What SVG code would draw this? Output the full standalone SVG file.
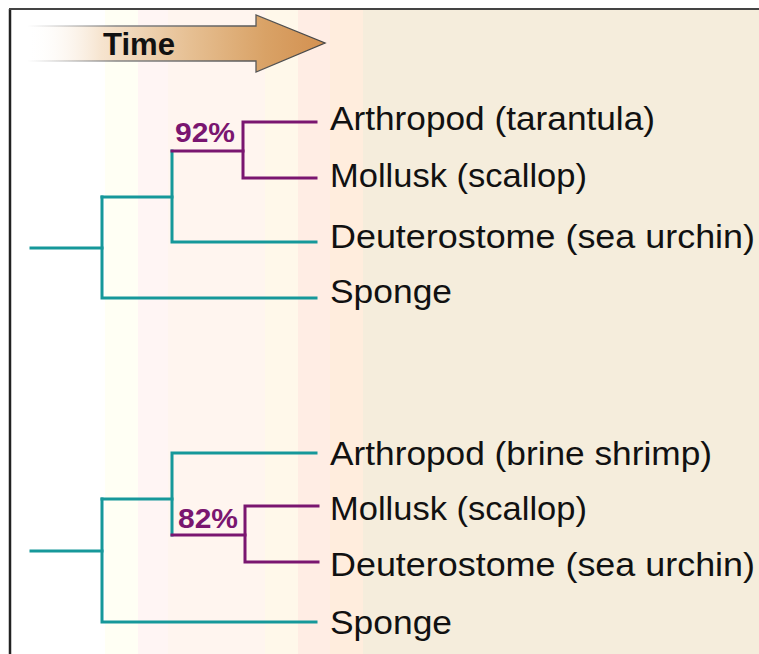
<svg xmlns="http://www.w3.org/2000/svg" width="759" height="654" viewBox="0 0 759 654">
  <defs>
    <linearGradient id="arrowFill" gradientUnits="userSpaceOnUse" x1="27" y1="0" x2="325" y2="0">
      <stop offset="0" stop-color="#ffffff" stop-opacity="0"/>
      <stop offset="0.25" stop-color="#f6e4cf"/>
      <stop offset="0.55" stop-color="#e6bf92"/>
      <stop offset="0.8" stop-color="#d9a266"/>
      <stop offset="1" stop-color="#d39050"/>
    </linearGradient>
    <linearGradient id="arrowStroke" gradientUnits="userSpaceOnUse" x1="27" y1="0" x2="325" y2="0">
      <stop offset="0" stop-color="#999" stop-opacity="0"/>
      <stop offset="0.3" stop-color="#888"/>
      <stop offset="0.8" stop-color="#555"/>
      <stop offset="1" stop-color="#444"/>
    </linearGradient>
  </defs>
  <style>
    .teal { stroke: #16989a; stroke-width: 3; fill: none; stroke-linecap: square; }
    .purple { stroke: #7a1670; stroke-width: 3; fill: none; stroke-linecap: square; }
    .label { font-family: "Liberation Sans", Arial, sans-serif; font-size: 32.5px; fill: #111; }
    .pct { font-family: "Liberation Sans", Arial, sans-serif; font-size: 27px; font-weight: bold; fill: #7a1670; }
    .time { font-family: "Liberation Sans", Arial, sans-serif; font-size: 31px; font-weight: bold; fill: #111; }
  </style>

  <!-- background -->
  <rect x="0" y="0" width="759" height="654" fill="#ffffff"/>
  <g id="bands">
    <rect x="105" y="10" width="33" height="644" fill="#fffff4"/>
    <rect x="138" y="10" width="30" height="644" fill="#fff5f4"/>
    <rect x="168" y="10" width="97" height="644" fill="#fff5ef"/>
    <rect x="265" y="10" width="33" height="644" fill="#fff8ea"/>
    <rect x="298" y="10" width="32" height="644" fill="#ffede4"/>
    <rect x="330" y="10" width="33" height="644" fill="#ffeddd"/>
    <rect x="363" y="10" width="396" height="644" fill="#f5eddc"/>
  </g>
  <g id="frame">
    <line x1="10" y1="9" x2="10" y2="654" stroke="#222" stroke-width="2.5"/>
    <line x1="9" y1="9" x2="759" y2="9" stroke="#444" stroke-width="2"/>
  </g>

  <!-- time arrow -->
  <g id="time-arrow">
    <path d="M27 26 H256 V15 L325 43 L256 72 V61 H27" fill="url(#arrowFill)" stroke="url(#arrowStroke)" stroke-width="1.3"/>
    <text class="time" x="103" y="55" textLength="72" lengthAdjust="spacingAndGlyphs">Time</text>
  </g>

  <!-- connectors -->
  <g id="connectors">
    <!-- top tree -->
    <path class="teal" d="M31 248 H102"/>
    <path class="teal" d="M102 197 V298 H316"/>
    <path class="teal" d="M102 197 H172"/>
    <path class="teal" d="M172 151 V242 H316"/>
    <path class="purple" d="M172 151 H243"/>
    <path class="purple" d="M316 122 H243 V178 H316"/>
    <!-- bottom tree -->
    <path class="teal" d="M31 551 H102"/>
    <path class="teal" d="M102 499 V622 H316"/>
    <path class="teal" d="M102 499 H172"/>
    <path class="teal" d="M316 453 H172 V535"/>
    <path class="purple" d="M172 535 H245"/>
    <path class="purple" d="M318 506 H245 V562 H318"/>
  </g>

  <!-- labels top -->
  <g id="pct-92"><text class="pct" x="175" y="142" textLength="60" lengthAdjust="spacingAndGlyphs">92%</text></g>
  <g id="top-arthropod"><text class="label" x="330" y="130" textLength="325" lengthAdjust="spacingAndGlyphs">Arthropod (tarantula)</text></g>
  <g id="top-mollusk"><text class="label" x="330" y="187" textLength="257" lengthAdjust="spacingAndGlyphs">Mollusk (scallop)</text></g>
  <g id="top-deuterostome"><text class="label" x="330" y="248" textLength="425" lengthAdjust="spacingAndGlyphs">Deuterostome (sea urchin)</text></g>
  <g id="top-sponge"><text class="label" x="330" y="303" textLength="122" lengthAdjust="spacingAndGlyphs">Sponge</text></g>

  <!-- labels bottom -->
  <g id="pct-82"><text class="pct" x="178" y="528" textLength="60" lengthAdjust="spacingAndGlyphs">82%</text></g>
  <g id="bottom-arthropod"><text class="label" x="330" y="465" textLength="382" lengthAdjust="spacingAndGlyphs">Arthropod (brine shrimp)</text></g>
  <g id="bottom-mollusk"><text class="label" x="330" y="520" textLength="257" lengthAdjust="spacingAndGlyphs">Mollusk (scallop)</text></g>
  <g id="bottom-deuterostome"><text class="label" x="330" y="576" textLength="425" lengthAdjust="spacingAndGlyphs">Deuterostome (sea urchin)</text></g>
  <g id="bottom-sponge"><text class="label" x="330" y="634" textLength="122" lengthAdjust="spacingAndGlyphs">Sponge</text></g>
</svg>
